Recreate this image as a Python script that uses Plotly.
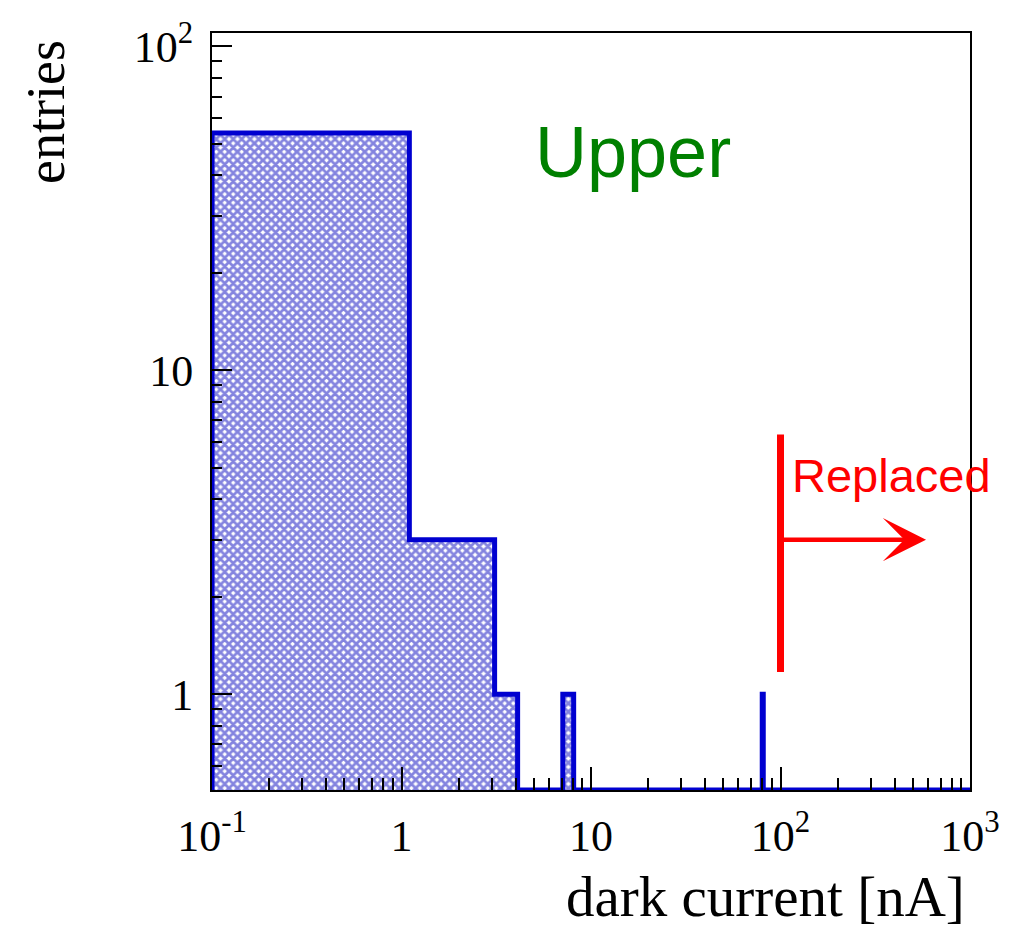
import numpy as np
import plotly.graph_objects as go

# ---------------- data ----------------
BIN_LOW = [0.1, 1.1, 2.1, 3.1, 7.1, 80.1]     # lower edges of non-empty bins [nA]
COUNTS = [54, 3, 3, 1, 1, 1]                  # entries per bin
BIN_WIDTH = 1.0
X_MIN, X_MAX = 0.1, 1000.0
Y_MIN, Y_MAX = 0.506, 110.0

X_TICKS = [0.1, 1, 10, 100, 1000]
X_TICKTEXT = ["10<sup>-1</sup>", "1", "10", "10<sup>2</sup>", "10<sup>3</sup>"]
Y_TICKS = [1, 10, 100]
Y_TICKTEXT = ["1", "10", "10<sup>2</sup>"]

REPLACED_CUT = 100.0          # threshold marker position [nA]
CUT_LINE_Y = [1.17, 6.34]     # vertical extent of the marker
ARROW_Y = 3.0

# ---------------- build histogram outline ----------------
xs, ys = [X_MIN], [Y_MIN]
cur = X_MIN
for i, (lo, c) in enumerate(zip(BIN_LOW, COUNTS)):
    hi = lo + BIN_WIDTH
    if lo > cur + 1e-9:
        xs.append(lo); ys.append(Y_MIN)
    xs += [lo, hi]; ys += [c, c]
    nxt = BIN_LOW[i + 1] if i + 1 < len(BIN_LOW) else None
    if nxt is None or nxt > hi + 1e-9:
        xs.append(hi); ys.append(Y_MIN)
    cur = hi
xs.append(X_MAX); ys.append(Y_MIN)

BLUE = "#0000D0"
SERIF = "Liberation Serif"
SANS = "Liberation Sans"

fig = go.Figure()
fig.add_trace(go.Scatter(
    x=xs, y=ys, mode="lines", fill="toself",
    line=dict(color=BLUE, width=5),
    fillcolor="white",
    fillpattern=dict(shape="x", fgcolor="#0A0AC0", bgcolor="white", size=6, solidity=0.72),
    hoverinfo="skip", showlegend=False,
))
fig.add_trace(go.Scatter(
    x=[REPLACED_CUT, REPLACED_CUT], y=CUT_LINE_Y, mode="lines",
    line=dict(color="red", width=7), hoverinfo="skip", showlegend=False,
))

tick_common = dict(ticks="inside", tickwidth=1.5, tickcolor="black",
                   showgrid=False, zeroline=False, showline=True,
                   linecolor="black", linewidth=2, mirror=True,
                   tickfont=dict(family=SERIF, size=44, color="black"))

fig.update_xaxes(type="log", range=[np.log10(X_MIN), np.log10(X_MAX)],
                 tickmode="array", tickvals=X_TICKS, ticktext=X_TICKTEXT,
                 ticklen=23, ticklabelstandoff=6,
                 minor=dict(ticks="inside", ticklen=12, tickwidth=1.5, tickcolor="black",
                            dtick="D1", showgrid=False),
                 **tick_common)
fig.update_yaxes(type="log", range=[np.log10(Y_MIN), np.log10(Y_MAX)],
                 tickmode="array", tickvals=Y_TICKS, ticktext=Y_TICKTEXT,
                 ticklen=20, ticklabelstandoff=8,
                 minor=dict(ticks="inside", ticklen=10, tickwidth=1.5, tickcolor="black",
                            dtick="D1", showgrid=False),
                 **tick_common)

fig.add_annotation(text="Upper", xref="paper", yref="paper", x=0.555, y=0.843,
                   xanchor="center", yanchor="middle", showarrow=False,
                   font=dict(family=SANS, size=72, color="green"))
fig.add_annotation(text="Replaced", xref="paper", yref="paper", x=0.763, y=0.415,
                   xanchor="left", yanchor="middle", showarrow=False,
                   font=dict(family=SANS, size=47, color="red"))
fig.add_annotation(text="", xref="x", yref="y",
                   x=np.log10(586), y=np.log10(ARROW_Y),
                   axref="pixel", ayref="pixel", ax=-145, ay=0,
                   showarrow=True, arrowhead=3, arrowsize=1.6, arrowwidth=4.5,
                   arrowcolor="red")
fig.add_annotation(text="entries", xref="paper", yref="paper", x=-0.22, y=0.896,
                   xanchor="center", yanchor="middle", textangle=-90, showarrow=False,
                   font=dict(family=SERIF, size=54, color="black"))
fig.add_annotation(text="dark current [nA]", xref="paper", yref="paper", x=0.996, y=-0.141,
                   xanchor="right", yanchor="middle", showarrow=False,
                   font=dict(family=SERIF, size=57, color="black"))

fig.update_layout(width=1020, height=927, margin=dict(l=212, r=50, t=33, b=137),
                  paper_bgcolor="white", plot_bgcolor="white")

fig.write_html("out.html")
